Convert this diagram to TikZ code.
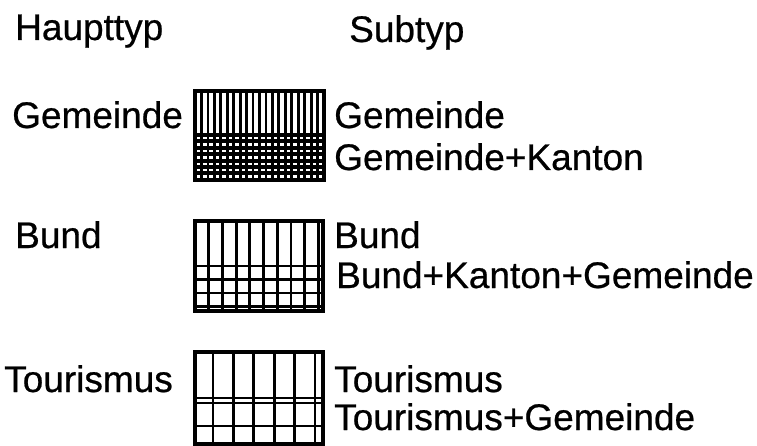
\documentclass[tikz,border=0pt]{standalone}
\usepackage{fontspec}
\setmainfont[FakeBold=0.6]{Liberation Sans}
\usetikzlibrary{positioning}
\tikzstyle{typ}=[font=\fontsize{37}{40}\selectfont, anchor=base west, inner sep=0pt]
\tikzstyle{rahmen}=[draw, line width=3.6pt]
\tikzstyle{strich}=[draw, line width=2.8pt]
\tikzstyle{punkt}=[draw, line width=4pt]

\begin{document}
\begin{tikzpicture}[x=1pt,y=-1pt]
    \useasboundingbox (0,0) rectangle (757,446);

    \foreach \pos/\name/\label in {{(15,40)/haupt/Haupttyp}, {(349,42)/sub/Subtyp}, {(12,128)/hgem/Gemeinde}, {(15,248)/hbund/Bund}, {(4,392)/htour/Tourismus}}
        \node[typ] (\name) at \pos {\label};

    \foreach \pos/\name/\label in {{(334,128)/sgem/Gemeinde}, {(334,170)/sgemk/Gemeinde+Kanton}, {(334,248)/sbund/Bund}, {(336,288)/sbundkg/Bund+Kanton+Gemeinde}, {(334,392)/stour/Tourismus}, {(334,430)/stourg/Tourismus+Gemeinde}}
        \node[typ] (\name) at \pos {\label};

    % Gemeinde
    \foreach \x in {1,...,19}
        \path[strich] ({195+\x*6.45},91) -- ({195+\x*6.45},180);
    \foreach \y in {0,...,7}
        \path[punkt] (195,{135+\y*6.4}) -- (324,{135+\y*6.4});
    \path[rahmen] (195,91) rectangle (324,180);

    % Bund
    \foreach \x in {1,...,9}
        \path[strich] ({195+\x*13.7},221) -- ({195+\x*13.7},311);
    \foreach \y in {266,279.5,293,306.5}
        \path[strich] (195,\y) -- (323,\y);
    \path[rahmen] (195,221) rectangle (323,311);

    % Tourismus
    \foreach \x in {0,...,5}
        \path[strich] ({213+\x*20.4},352) -- ({213+\x*20.4},444);
    \foreach \y in {398,403,426}
        \path[strich] (195,\y) -- (323,\y);
    \path[rahmen] (195,352) rectangle (323,444);
\end{tikzpicture}
\end{document}
